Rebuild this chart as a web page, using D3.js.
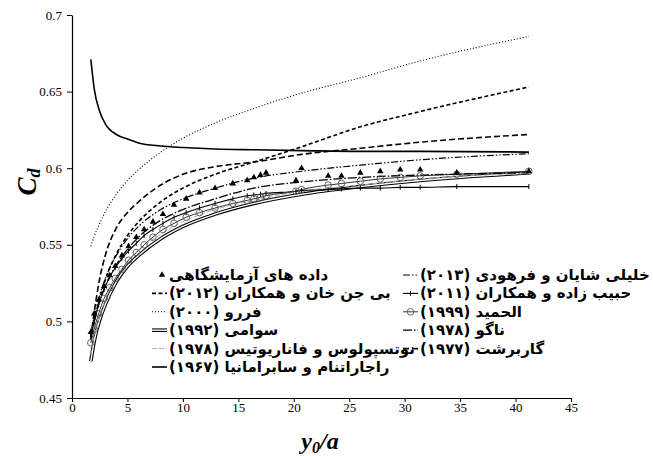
<!DOCTYPE html>
<html>
<head>
<meta charset="UTF-8">
<title>Cd vs y0/a</title>
<style>
  body { margin: 0; background: #fff; }
  .tick text { font-family: "Liberation Serif", "Times New Roman", serif; font-size: 13px; fill: #000; }
  .leg text { font-family: "DejaVu Sans", sans-serif; font-weight: bold; font-size: 15px; fill: #000; }
</style>
</head>
<body>
<svg id="chart"></svg>
<script src="https://d3js.org/d3.v7.min.js"></script>
<script>
// x values of the experiments (also used by the curves that carry markers)
const LAB_X = [1.7, 2.0, 2.4, 2.9, 3.4, 3.9, 4.5, 5.1, 5.8, 6.5, 7.3, 8.2, 9.2, 10.3, 11.5, 12.9, 14.5, 15.8,
               16.4, 17.0, 17.5, 20.2, 20.7, 23.1, 24.3, 26.0, 27.8, 29.6, 31.4, 34.7, 41.2];
const LAB_CD = [0.493, 0.505, 0.514, 0.523, 0.530, 0.536, 0.543, 0.549, 0.555, 0.560, 0.565, 0.570, 0.576, 0.580,
                0.584, 0.587, 0.590, 0.592, 0.594, 0.5955, 0.597, 0.592, 0.600, 0.595, 0.595, 0.597, 0.598, 0.599,
                0.599, 0.597, 0.598];
const ALHAMID_CD = [0.486, 0.495, 0.505, 0.515, 0.522, 0.528, 0.534, 0.540, 0.545, 0.550, 0.555, 0.560, 0.564, 0.568,
                    0.571, 0.574, 0.577, 0.579, 0.580, 0.581, 0.582, 0.585, 0.586, 0.589, 0.590, 0.5915, 0.593, 0.594,
                    0.595, 0.596, 0.598];
const HABIB_CD = [0.490, 0.500, 0.511, 0.521, 0.529, 0.535, 0.541, 0.546, 0.551, 0.556, 0.560, 0.564, 0.568, 0.571,
                  0.574, 0.577, 0.580, 0.582, 0.5825, 0.583, 0.5835, 0.585, 0.5855, 0.586, 0.5865, 0.587, 0.587,
                  0.5875, 0.5875, 0.588, 0.588];

// x values for the plain curves
const GRID_X = [1.7, 2, 2.5, 3, 4, 5, 6, 8, 10, 12.9, 16.4, 20.7, 26, 31.4, 41.2];
const RAJA_CD    = [0.671, 0.652, 0.637, 0.629, 0.622, 0.619, 0.6165, 0.6145, 0.6135, 0.6125, 0.612, 0.6115, 0.611, 0.611, 0.6105];
const FERRO_CD   = [0.549, 0.5555, 0.564, 0.5715, 0.583, 0.592, 0.599, 0.6105, 0.6195, 0.6295, 0.639, 0.649, 0.659, 0.670, 0.686];
const GARB_CD    = [0.490, 0.506, 0.528, 0.543, 0.561, 0.571, 0.578, 0.589, 0.596, 0.601, 0.604, 0.609, 0.613, 0.617, 0.622];
const BIJAN_CD   = [0.488, 0.500, 0.515, 0.527, 0.544, 0.556, 0.565, 0.578, 0.587, 0.596, 0.604, 0.614, 0.627, 0.637, 0.653];
const KHALILI_CD = [0.492, 0.503, 0.517, 0.528, 0.543, 0.554, 0.562, 0.573, 0.580, 0.587, 0.5935, 0.598, 0.602, 0.6055, 0.6095];
const NAGO_CD    = [0.490, 0.500, 0.513, 0.523, 0.537, 0.547, 0.555, 0.566, 0.573, 0.580, 0.587, 0.591, 0.594, 0.5955, 0.597];
const SWAMEE_CD  = [0.474, 0.487, 0.501, 0.511, 0.526, 0.536, 0.543, 0.554, 0.562, 0.570, 0.577, 0.583, 0.588, 0.592, 0.597];
const NOUTS_CD   = [0.478, 0.490, 0.504, 0.514, 0.529, 0.539, 0.546, 0.557, 0.565, 0.573, 0.579, 0.585, 0.589, 0.593, 0.5965];

const X_TICKS = [0, 5, 10, 15, 20, 25, 30, 35, 40, 45];
const Y_TICKS = [0.45, 0.5, 0.55, 0.6, 0.65, 0.7];

const width = 653, height = 456;
const plotLeft = 72, plotRight = 571, plotTop = 15, plotBottom = 398;

const svg = d3.select("#chart").attr("width", width).attr("height", height);

const x = d3.scaleLinear().domain([0, 45]).range([plotLeft, plotRight]);
const y = d3.scaleLinear().domain([0.45, 0.7]).range([plotBottom, plotTop]);

// series: name in legend, data, line style, marker
const series = [
  { name: "داده های آزمایشگاهی", xs: LAB_X, ys: LAB_CD, line: null, marker: "tri", col: 0, row: 0 },
  { name: "بی جن خان و همکاران (۲۰۱۲)", xs: GRID_X, ys: BIJAN_CD, line: { w: 1.6, dash: "4,2.5" }, col: 0, row: 1 },
  { name: "فررو (۲۰۰۰)", xs: GRID_X, ys: FERRO_CD, line: { w: 1.1, dash: "1,2" }, col: 0, row: 2 },
  { name: "سوامی (۱۹۹۲)", xs: GRID_X, ys: SWAMEE_CD, line: { w: 1, double: true }, col: 0, row: 3 },
  { name: "نوتسپولوس و فاناریوتیس (۱۹۷۸)", xs: GRID_X, ys: NOUTS_CD, line: { w: 1, dash: "5,2", color: "#b0b0b0" }, col: 0, row: 4 },
  { name: "راجاراتنام و سابرامانیا (۱۹۶۷)", xs: GRID_X, ys: RAJA_CD, line: { w: 1.6 }, col: 0, row: 5 },
  { name: "خلیلی شایان و فرهودی (۲۰۱۳)", xs: GRID_X, ys: KHALILI_CD, line: { w: 1.2, dash: "7,2,1.5,2,1.5,2" }, col: 1, row: 0 },
  { name: "حبیب زاده و همکاران (۲۰۱۱)", xs: LAB_X, ys: HABIB_CD, line: { w: 1.1 }, marker: "tick", col: 1, row: 1 },
  { name: "الحمید (۱۹۹۹)", xs: LAB_X, ys: ALHAMID_CD, line: { w: 1, color: "#333" }, marker: "circle", col: 1, row: 2 },
  { name: "ناگو (۱۹۷۸)", xs: GRID_X, ys: NAGO_CD, line: { w: 1.3, dash: "9,2,1.5,2" }, col: 1, row: 3 },
  { name: "گاربرشت (۱۹۷۷)", xs: GRID_X, ys: GARB_CD, line: { w: 1.6, dash: "6,3" }, col: 1, row: 4 }
];

// axes
const yAxis = d3.axisLeft(y).tickValues(Y_TICKS).tickSize(5).tickPadding(5).tickSizeOuter(0)
  .tickFormat(d => String(+d.toFixed(2)));
const xAxis = d3.axisBottom(x).tickValues(X_TICKS).tickSize(4).tickPadding(1).tickSizeOuter(0);

svg.append("g").attr("transform", `translate(${plotLeft},0)`).call(yAxis)
  .call(g => g.select(".domain").attr("stroke-width", 1.2));
svg.append("g").attr("transform", `translate(0,${plotBottom})`).call(xAxis)
  .call(g => g.select(".domain").attr("stroke-width", 1.2));

// axis titles
const xt = svg.append("text").attr("x", 320).attr("y", 449).attr("text-anchor", "middle")
  .style("font-family", "Liberation Serif, serif").style("font-weight", "bold").style("font-style", "italic")
  .style("font-size", "24px");
xt.append("tspan").text("y");
xt.append("tspan").text("0").style("font-size", "16px").attr("dy", 4);
xt.append("tspan").text("/a").attr("dy", -4);

const yt = svg.append("text").attr("transform", "translate(36,182) rotate(-90)").attr("text-anchor", "middle")
  .style("font-family", "Liberation Serif, serif").style("font-weight", "bold").style("font-style", "italic")
  .style("font-size", "27px");
yt.append("tspan").text("C");
yt.append("tspan").text("d").style("font-size", "18px").attr("dy", 4);

const line = d3.line().x(d => x(d[0])).y(d => y(d[1])).curve(d3.curveMonotoneX);
const pts = s => s.xs.map((v, i) => [v, s.ys[i]]);

const plot = svg.append("g");

function drawLine(g, s, d) {
  const L = s.line;
  if (L.double) {
    g.append("path").attr("d", d).attr("fill", "none").attr("stroke", "#000").attr("stroke-width", 3.6);
    g.append("path").attr("d", d).attr("fill", "none").attr("stroke", "#fff").attr("stroke-width", 1.4);
  } else {
    g.append("path").attr("d", d).attr("fill", "none").attr("stroke", L.color || "#000")
      .attr("stroke-width", L.w).attr("stroke-dasharray", L.dash || null);
  }
}

function drawMarker(g, type, cx, cy) {
  if (type === "tri") {
    g.append("path").attr("d", d3.symbol(d3.symbolTriangle, 18)()).attr("transform", `translate(${cx},${cy})`)
      .attr("fill", "#000");
  } else if (type === "tick") {
    g.append("line").attr("x1", cx).attr("x2", cx).attr("y1", cy - 2.5).attr("y2", cy + 2.5)
      .attr("stroke", "#000").attr("stroke-width", 1);
  } else if (type === "circle") {
    g.append("circle").attr("cx", cx).attr("cy", cy).attr("r", 3.3).attr("fill", "none")
      .attr("stroke", "#555").attr("stroke-width", 0.9);
  }
}

// lines first, then markers, triangles on top
series.filter(s => s.line).forEach(s => drawLine(plot, s, line(pts(s))));
series.filter(s => s.marker && s.marker !== "tri").forEach(s =>
  pts(s).forEach(p => drawMarker(plot, s.marker, x(p[0]), y(p[1]))));
series.filter(s => s.marker === "tri").forEach(s =>
  pts(s).forEach(p => drawMarker(plot, "tri", x(p[0]), y(p[1]))));

// legend
const leg = svg.append("g").attr("class", "leg");
const colX = [152, 403], rowY0 = 275, rowH = 18.4, symW = 15;
series.forEach(s => {
  const x0 = colX[s.col], cy = rowY0 + s.row * rowH;
  if (s.line) drawLine(leg, s, `M${x0},${cy}H${x0 + symW}`);
  if (s.marker) drawMarker(leg, s.marker, x0 + (s.marker === "tri" ? 10 : symW / 2), cy);
  leg.append("text").attr("x", x0 + symW + 2).attr("y", cy + 5)
    .style("direction", "rtl").attr("text-anchor", "end").text(s.name);
});
</script>
</body>
</html>
